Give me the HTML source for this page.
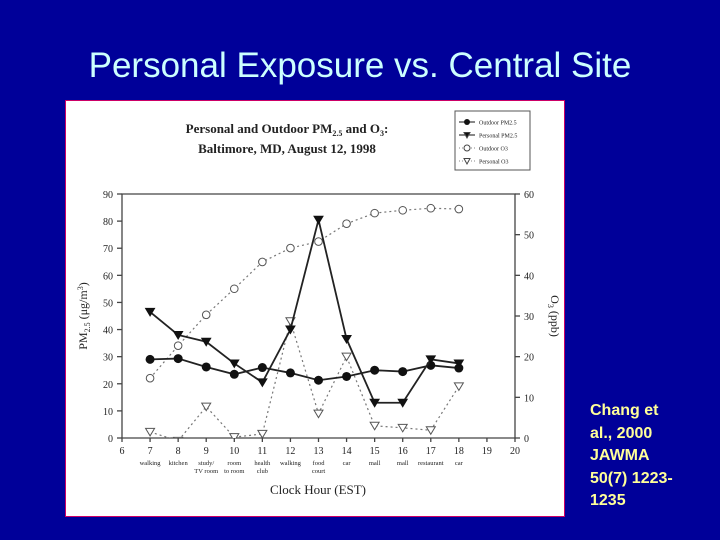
<!DOCTYPE html>
<html><head><meta charset="utf-8"><style>
body{margin:0;width:720px;height:540px;background:#000099;overflow:hidden;position:relative;font-family:"Liberation Sans",sans-serif}
#title{position:absolute;left:0;width:720px;top:46px;text-align:center;color:#ccffff;font-size:35px}
#cite{position:absolute;left:590px;top:400px;color:#ffff99;font-weight:bold;font-size:16px;line-height:22.5px;width:92px}
#chart{position:absolute;left:65px;top:100px}
</style></head><body>
<div id="title">Personal Exposure vs. Central Site</div>
<div id="cite">Chang et<br>al., 2000<br>JAWMA<br>50(7) 1223-<br>1235</div>
<svg id="chart" width="501" height="418" font-family="Liberation Serif, serif"></svg>
<script>
const hours=[7,8,9,10,11,12,13,14,15,16,17,18];
const places=[["walking"],["kitchen"],["study/","TV room"],["room","to room"],["health","club"],["walking"],["food","court"],["car"],["mall"],["mall"],["restaurant"],["car"]];
const outdoorPM=[29,29.3,26.2,23.5,26,24,21.3,22.7,25,24.5,26.8,25.8];
const personalPM=[46.5,38,35.5,27.5,20.5,40,80.5,36.5,13,13,29,27.5];
const outdoorO3=[14.7,22.7,30.3,36.7,43.3,46.7,48.3,52.7,55.3,56,56.5,56.3];
const personalO3=[1.5,-0.7,7.7,0.2,1,28.7,6,20,3,2.5,1.9,12.7];
const xTicks=[6,7,8,9,10,11,12,13,14,15,16,17,18,19,20];
const yTicks=[0,10,20,30,40,50,60,70,80,90];
const y2Ticks=[0,10,20,30,40,50,60];
const NS="http://www.w3.org/2000/svg";
const svg=document.getElementById('chart');
const L=57,R=450,T=94,B=338;
const X=h=>L+(h-6)/14*(R-L);
const Y=v=>B-v/90*(B-T);
const Y2=v=>B-v/60*(B-T);
function el(tag,a,parent){const e=document.createElementNS(NS,tag);for(const k in a)e.setAttribute(k,a[k]);(parent||svg).appendChild(e);return e;}
function txt(x,y,s,size,anchor,extra){const t=el('text',Object.assign({x:x,y:y,'font-size':size,'text-anchor':anchor||'middle',fill:'#222'},extra||{}));t.textContent=s;return t;}
el('rect',{x:0.5,y:0.5,width:499,height:416,fill:'#fff',stroke:'#c06',"stroke-width":1});
let t1=txt(222,33,'Personal and Outdoor PM',13,'middle',{'font-weight':'bold'});

t1.innerHTML='Personal and Outdoor PM<tspan font-size="8" dy="3">2.5</tspan><tspan dy="-3"> and O</tspan><tspan font-size="8" dy="3">3</tspan><tspan dy="-3">:</tspan>';
let t2=txt(222,53,'Baltimore, MD, August 12, 1998',13,'middle',{'font-weight':'bold'});

const ax=el('g',{stroke:'#444','stroke-width':1.3,fill:'none'});

el('path',{d:`M${L},${T}H${R}V${B}H${L}Z`},ax);
xTicks.forEach(h=>{el('line',{x1:X(h),x2:X(h),y1:B,y2:B+4},ax);const t=txt(X(h),B+16,h,10);});
yTicks.forEach(v=>{el('line',{x1:L-5,x2:L,y1:Y(v),y2:Y(v)},ax);const t=txt(L-9,Y(v)+4,v,10,'end');});
y2Ticks.forEach(v=>{el('line',{x1:R,x2:R+5,y1:Y2(v),y2:Y2(v)},ax);const t=txt(R+9,Y2(v)+4,v,10,'start');});
hours.forEach((h,i)=>places[i].forEach((s,j)=>{const t=txt(X(h),B+27+j*8,s,6.5);}));
let xt=txt(253,394,'Clock Hour (EST)',13);
let yt=txt(0,0,'',12,'middle',{transform:`translate(${L-35},${(T+B)/2}) rotate(-90)`});
yt.innerHTML='PM<tspan font-size="8" dy="3">2.5</tspan><tspan dy="-3"> (μg/m</tspan><tspan font-size="8" dy="-4">3</tspan><tspan dy="4">)</tspan>';

let y2t=txt(0,0,'',12,'middle',{transform:`translate(${R+36},${(T+B)/2}) rotate(90)`});
y2t.innerHTML='O<tspan font-size="8" dy="3">3</tspan><tspan dy="-3"> (ppb)</tspan>';

const cp=el('clipPath',{id:'cp'});el('rect',{x:L,y:T-10,width:R-L,height:B-T+10},cp);
function series(vals,fy,name,dash,marker){
  const g=el('g',{'clip-path':'url(#cp)'});
  
  el('polyline',{points:vals.map((v,i)=>X(hours[i])+','+fy(v)).join(' '),fill:'none',stroke:dash?'#777':'#222','stroke-width':dash?1.2:1.8,'stroke-dasharray':dash?'2 3':'none'},g);
  vals.forEach((v,i)=>{const x=X(hours[i]),y=fy(v);let m;
    if(marker==='dot')m=el('circle',{cx:x,cy:y,r:4.5,fill:'#111'},g);
    else if(marker==='circle')m=el('circle',{cx:x,cy:y,r:3.8,fill:'#fff',stroke:'#555','stroke-width':1},g);
    else m=el('path',{d:`M${x-4.5},${y-3.5}L${x+4.5},${y-3.5}L${x},${y+4}Z`,fill:marker==='tri'?'#111':'#fff',stroke:marker==='tri'?'#111':'#555','stroke-width':1},g);
    });
}
series(outdoorO3,Y2,'outdoor-o3',true,'circle');
series(personalO3,Y2,'personal-o3',true,'otri');
series(outdoorPM,Y,'outdoor-pm25',false,'dot');
series(personalPM,Y,'personal-pm25',false,'tri');
const lg=el('g',{});
el('rect',{x:390,y:11,width:75,height:59,fill:'#fff',stroke:'#555'},lg);
const lab=['Outdoor PM2.5','Personal PM2.5','Outdoor O3','Personal O3'];
lab.forEach((s,i)=>{const y=22+i*13,x=402;
  el('line',{x1:x-8,x2:x+8,y1:y,y2:y,stroke:i<2?'#111':'#888','stroke-dasharray':i<2?'none':'1 2'},lg);
  if(i==0)el('circle',{cx:x,cy:y,r:3,fill:'#111'},lg);
  else if(i==2)el('circle',{cx:x,cy:y,r:3,fill:'#fff',stroke:'#444'},lg);
  else el('path',{d:`M${x-3},${y-2.5}L${x+3},${y-2.5}L${x},${y+3}Z`,fill:i==1?'#111':'#fff',stroke:'#444'},lg);
  const t=txt(x+12,y+2.5,s,6,'start');lg.appendChild(t);});
</script>
</body></html>
